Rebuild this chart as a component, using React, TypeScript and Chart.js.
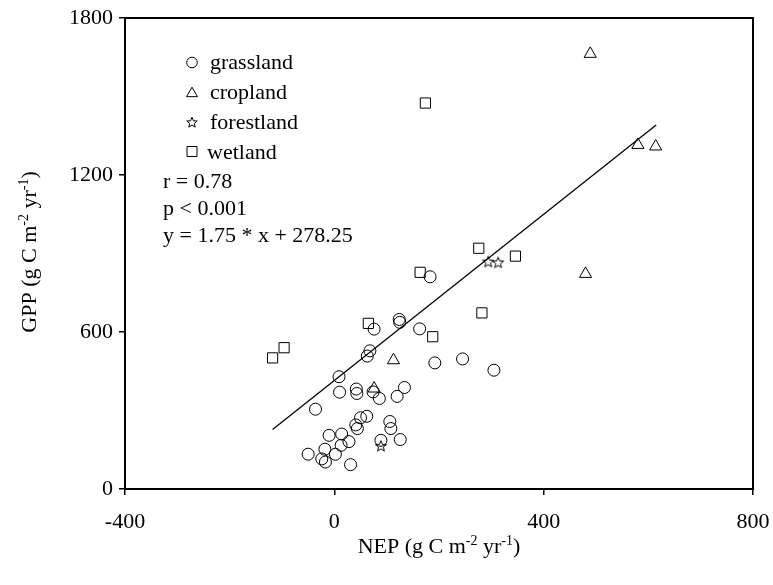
import React, { useEffect, useRef } from "react";
import { Chart, registerables } from "chart.js";
Chart.register(...registerables);

const FONT = "'Liberation Serif', 'Times New Roman', serif";

// NEP (x) and GPP (y) values per land-use type
const grasslandX = [183, 76, 124, 125, 163, 68, 63, 192, 245, 305, 9, 10, 42, 43, 74, 86, 134, 120, -36, 50, 62, 41, 44, 106, 108, -10, 14, 28, 13, 89, 126, -50, -18, -24, -17, 2, 31];
const grasslandY = [811, 611, 648, 637, 612, 528, 508, 482, 497, 454, 429, 370, 382, 365, 371, 346, 388, 354, 305, 272, 278, 245, 231, 258, 231, 205, 210, 181, 167, 186, 189, 133, 152, 115, 103, 133, 93];
const croplandX = [489, 580, 614, 480, 113, 76];
const croplandY = [1663, 1315, 1309, 822, 492, 384];
const forestlandX = [294, 313, 89];
const forestlandY = [869, 866, 165];
const wetlandX = [174, 276, 346, 164, 65, 188, 282, -118, -96];
const wetlandY = [1475, 920, 890, 828, 633, 582, 673, 501, 540];

// regression line as drawn
const fitX = [-118, 615];
const fitY = [227, 1391];

const xTicks = [-400, 0, 400, 800];
const yTicks = [0, 600, 1200, 1800];
const legendLabels = ["grassland", "cropland", "forestland", "wetland"];
const statsLines = ["r = 0.78", "p < 0.001", "y = 1.75 * x + 278.25"];

const zip = (xs: number[], ys: number[]) => xs.map((x, i) => ({ x, y: ys[i] }));

function starPath(ctx: CanvasRenderingContext2D, cx: number, cy: number, ro: number, ri: number) {
  ctx.beginPath();
  for (let i = 0; i < 10; i++) {
    const r = i % 2 === 0 ? ro : ri;
    const a = -Math.PI / 2 + (i * Math.PI) / 5;
    const px = cx + r * Math.cos(a);
    const py = cy + r * Math.sin(a);
    if (i === 0) ctx.moveTo(px, py);
    else ctx.lineTo(px, py);
  }
  ctx.closePath();
}

function makeStar(): HTMLCanvasElement {
  const c = document.createElement("canvas");
  c.width = 14;
  c.height = 14;
  const g = c.getContext("2d")!;
  g.strokeStyle = "#000";
  g.lineWidth = 1;
  starPath(g, 7, 7.5, 5.8, 2.5);
  g.stroke();
  return c;
}

function drawMarker(ctx: CanvasRenderingContext2D, kind: string, x: number, y: number) {
  ctx.save();
  ctx.strokeStyle = "#000";
  ctx.lineWidth = 1;
  ctx.beginPath();
  if (kind === "circle") {
    ctx.arc(x, y, 5.3, 0, Math.PI * 2);
  } else if (kind === "triangle") {
    const r = 6.3;
    for (let i = 0; i < 3; i++) {
      const a = -Math.PI / 2 + (i * 2 * Math.PI) / 3;
      const px = x + r * Math.cos(a);
      const py = y + 1 + r * Math.sin(a);
      if (i === 0) ctx.moveTo(px, py);
      else ctx.lineTo(px, py);
    }
    ctx.closePath();
  } else if (kind === "rect") {
    ctx.rect(x - 5, y - 5, 10, 10);
  } else {
    starPath(ctx, x, y, 5.5, 2.4);
  }
  ctx.stroke();
  ctx.restore();
}

type Part = { t: string; sup?: boolean };
function richWidth(ctx: CanvasRenderingContext2D, parts: Part[]) {
  let w = 0;
  for (const p of parts) {
    ctx.font = p.sup ? `14px ${FONT}` : `22px ${FONT}`;
    w += ctx.measureText(p.t).width;
  }
  return w;
}
function drawRich(ctx: CanvasRenderingContext2D, parts: Part[], cx: number, baseline: number) {
  const w = richWidth(ctx, parts);
  let x = cx - w / 2;
  ctx.textAlign = "left";
  ctx.textBaseline = "alphabetic";
  for (const p of parts) {
    ctx.font = p.sup ? `14px ${FONT}` : `22px ${FONT}`;
    ctx.fillText(p.t, x, p.sup ? baseline - 8 : baseline);
    x += ctx.measureText(p.t).width;
  }
}

const titleParts = (name: string): Part[] => [
  { t: `${name} (g C m` },
  { t: "-2", sup: true },
  { t: " yr" },
  { t: "-1", sup: true },
  { t: ")" },
];

const overlay = {
  id: "overlay",
  afterDraw(chart: any) {
    const ctx: CanvasRenderingContext2D = chart.ctx;
    const a = chart.chartArea;
    ctx.save();
    ctx.strokeStyle = "#000";
    ctx.lineWidth = 2;
    ctx.beginPath();
    ctx.moveTo(a.left - 1, a.top);
    ctx.lineTo(a.right, a.top);
    ctx.lineTo(a.right, a.bottom + 1);
    ctx.stroke();

    ctx.fillStyle = "#000";
    const kinds = ["circle", "triangle", "star", "rect"];
    const my = [62.5, 92.5, 122.7, 151.5];
    const tx = [210, 210, 210, 207];
    const tb = [68.5, 98.5, 129, 158.5];
    legendLabels.forEach((lab, i) => {
      drawMarker(ctx, kinds[i], 192, my[i]);
      ctx.font = `22px ${FONT}`;
      ctx.textAlign = "left";
      ctx.textBaseline = "alphabetic";
      ctx.fillText(lab, tx[i], tb[i]);
    });
    const sb = [187.5, 215, 241.5];
    statsLines.forEach((s, i) => {
      ctx.font = `22px ${FONT}`;
      ctx.fillText(s, 163, sb[i]);
    });

    // axis titles
    drawRich(ctx, titleParts("NEP"), (a.left + a.right) / 2, 553);
    ctx.save();
    ctx.translate(36, 252);
    ctx.rotate(-Math.PI / 2);
    drawRich(ctx, titleParts("GPP"), 0, 0);
    ctx.restore();
    ctx.restore();
  },
};

export default function App() {
  const ref = useRef<HTMLCanvasElement | null>(null);
  useEffect(() => {
    if (!ref.current) return;
    const star = makeStar();
    const common = {
      borderColor: "#000",
      backgroundColor: "rgba(0,0,0,0)",
      pointBorderColor: "#000",
      pointBackgroundColor: "rgba(0,0,0,0)",
      pointBorderWidth: 1,
      showLine: false,
    };
    const chart = new Chart(ref.current, {
      type: "scatter",
      data: {
        datasets: [
          {
            label: "fit",
            data: zip(fitX, fitY),
            showLine: true,
            borderColor: "#000",
            borderWidth: 1.3,
            pointRadius: 0,
            fill: false,
          } as any,
          { ...common, label: legendLabels[0], data: zip(grasslandX, grasslandY), pointStyle: "circle", pointRadius: 6 },
          { ...common, label: legendLabels[1], data: zip(croplandX, croplandY), pointStyle: "triangle", pointRadius: 7 },
          { ...common, label: legendLabels[2], data: zip(forestlandX, forestlandY), pointStyle: star, pointRadius: 6 },
          { ...common, label: legendLabels[3], data: zip(wetlandX, wetlandY), pointStyle: "rect", pointRadius: 7.2 },
        ],
      },
      options: {
        animation: false,
        responsive: true,
        maintainAspectRatio: false,
        layout: { padding: { left: 0, right: 20, top: 18, bottom: 0 } },
        plugins: { legend: { display: false }, tooltip: { enabled: false } },
        scales: {
          x: {
            type: "linear",
            min: -400,
            max: 800,
            afterBuildTicks: (s: any) => {
              s.ticks = xTicks.map((v) => ({ value: v }));
            },
            afterFit: (s: any) => {
              s.height = 96;
              s.paddingLeft = 0;
              s.paddingRight = 0;
            },
            ticks: {
              callback: (v: any) => String(v),
              color: "#000",
              font: { family: FONT, size: 22 },
              padding: 14,
              maxRotation: 0,
              autoSkip: false,
            },
            grid: { drawOnChartArea: false, drawTicks: true, tickLength: 6, color: "#000", lineWidth: 1.5 },
            border: { display: true, color: "#000", width: 2 },
          },
          y: {
            type: "linear",
            min: 0,
            max: 1800,
            afterBuildTicks: (s: any) => {
              s.ticks = yTicks.map((v) => ({ value: v }));
            },
            afterFit: (s: any) => {
              s.width = 125;
              s.paddingTop = 0;
              s.paddingBottom = 0;
            },
            ticks: {
              callback: (v: any) => String(v),
              color: "#000",
              font: { family: FONT, size: 22 },
              padding: 6,
              autoSkip: false,
            },
            grid: { drawOnChartArea: false, drawTicks: true, tickLength: 6, color: "#000", lineWidth: 1.5 },
            border: { display: true, color: "#000", width: 2 },
          },
        },
      },
      plugins: [overlay],
    } as any);
    return () => chart.destroy();
  }, []);
  return (
    <div style={{ position: "fixed", left: 0, top: 0, width: 773, height: 585, background: "#fff" }}>
      <canvas ref={ref} />
    </div>
  );
}
